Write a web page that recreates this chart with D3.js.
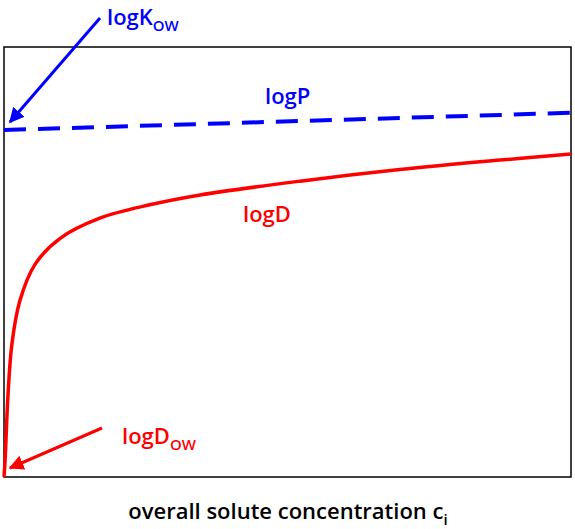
<!DOCTYPE html><html><head><script src="https://cdn.jsdelivr.net/npm/d3@7"></script>
<style>body{margin:0;background:#fff}text{font-family:"Open Sans","DejaVu Sans",sans-serif;font-weight:600}</style></head><body>
<svg id="c" width="575" height="529"></svg>
<script>
const logDx=[0,0.002,0.007,0.014,0.028,0.055,0.099,0.169,0.257,0.346,0.522,0.698,0.875,1];
const logDy=[0,4,19,31,41,49.5,55.5,60.2,63.3,65.6,68.8,71.5,73.7,75.1];
const logPx=[0,1];
const logPy=[80.7,84.7];
const svg=d3.select("#c");
const L=4,R=571,T=47,B=477;
const x=d3.scaleLinear().domain([0,1]).range([L,R]);
const y=d3.scaleLinear().domain([0,100]).range([B,T]);
svg.append("rect").attr("x",L).attr("y",T).attr("width",R-L).attr("height",B-T).attr("fill","none").attr("stroke","#000").attr("stroke-width",1.5);
const line=d3.line().x(d=>x(d[0])).y(d=>y(d[1])).curve(d3.curveCatmullRom.alpha(0.5));
svg.append("path").attr("d",line(logDx.map((v,i)=>[v,logDy[i]]))).attr("fill","none").attr("stroke","#f00").attr("stroke-width",3.5);
svg.append("path").attr("d",line(logPx.map((v,i)=>[v,logPy[i]]))).attr("fill","none").attr("stroke","#00f").attr("stroke-width",4).attr("stroke-dasharray","22,12");
const defs=svg.append("defs");
[["b","#00f"],["r","#f00"]].forEach(([id,c])=>defs.append("marker").attr("id",id).attr("viewBox","0 0 10 10").attr("refX",9).attr("refY",5).attr("markerWidth",5).attr("markerHeight",5).attr("orient","auto").append("path").attr("d","M0,0L10,5L0,10z").attr("fill",c));
svg.append("line").attr("x1",100).attr("y1",18).attr("x2",10).attr("y2",122).attr("stroke","#00f").attr("stroke-width",3).attr("marker-end","url(#b)");
svg.append("line").attr("x1",102).attr("y1",428).attr("x2",10).attr("y2",468).attr("stroke","#f00").attr("stroke-width",3).attr("marker-end","url(#r)");
function lab(tx,sub,px,py,c){const t=svg.append("text").attr("x",px).attr("y",py).attr("fill",c).attr("font-size",22);t.append("tspan").text(tx);if(sub)t.append("tspan").attr("font-size",15).attr("dy",6).text(sub);}
lab("logK","OW",107,25,"#00f");
lab("logP",null,265,104,"#00f");
lab("logD",null,243,222,"#f00");
lab("logD","OW",122,444,"#f00");
const xl=svg.append("text").attr("x",288).attr("y",519).attr("text-anchor","middle").attr("font-size",22).attr("fill","#000");
xl.append("tspan").text("overall solute concentration c");xl.append("tspan").attr("font-size",15).attr("dy",6).text("i");
</script></body></html>
